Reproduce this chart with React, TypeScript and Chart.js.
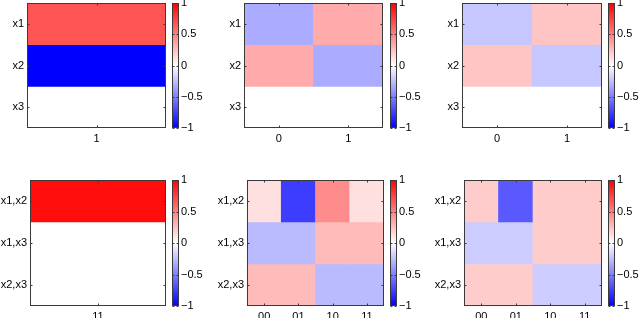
import React, { useEffect, useRef } from "react";
import { Chart, registerables } from "chart.js";
Chart.register(...registerables);

// ---- data ----
const rowLabelsSingle = ["x1", "x2", "x3"];
const rowLabelsPair = ["x1,x2", "x1,x3", "x2,x3"];
const colLabelsA = ["1"];
const colLabelsB = ["0", "1"];
const colLabelsC = ["11"];
const colLabelsD = ["00", "01", "10", "11"];

const panel1Values = [[0.67], [-1], [0]];
const panel2Values = [[-0.33, 0.33], [0.33, -0.33], [0, 0]];
const panel3Values = [[-0.22, 0.23], [0.23, -0.22], [0, 0]];
const panel4Values = [[0.95], [0], [0]];
const panel5Values = [
  [0.12, -0.76, 0.45, 0.12],
  [-0.27, -0.27, 0.27, 0.27],
  [0.27, 0.27, -0.27, -0.27],
];
const panel6Values = [
  [0.2, -0.65, 0.2, 0.2],
  [-0.2, -0.2, 0.2, 0.2],
  [0.2, 0.2, -0.2, -0.2],
];
const colorbarTicks = [-1, -0.5, 0, 0.5, 1];

const FONT = { family: "'Liberation Sans', Arial, sans-serif", size: 11 };
const FRAME = "#3a3a3a";

function cellColor(v: number) {
  const t = Math.round(255 * (1 - Math.min(1, Math.abs(v))));
  return v >= 0 ? `rgb(255,${t},${t})` : `rgb(${t},${t},255)`;
}

function fmtTick(v: number) {
  const s = String(Math.abs(v));
  return v < 0 ? "\u2212" + s : s;
}

const heatFrame = {
  id: "heatFrame",
  afterDraw(chart: any) {
    const { ctx, chartArea: a } = chart;
    const xs = chart.scales.x;
    const ys = chart.scales.y;
    const L = Math.round(a.left) + 0.5;
    const R = Math.round(a.right) - 0.5;
    const T = Math.round(a.top) + 0.5;
    const B = Math.round(a.bottom) - 0.5;
    ctx.save();
    ctx.strokeStyle = FRAME;
    ctx.lineWidth = 1;
    ctx.strokeRect(L, T, R - L, B - T);
    ctx.beginPath();
    xs.ticks.forEach((_: any, i: number) => {
      const x = Math.round(xs.getPixelForTick(i)) + 0.5;
      ctx.moveTo(x, B);
      ctx.lineTo(x, B - 2);
      ctx.moveTo(x, T);
      ctx.lineTo(x, T + 2);
    });
    ys.ticks.forEach((t: any) => {
      const y = Math.round(ys.getPixelForValue(t.value)) + 0.5;
      ctx.moveTo(L, y);
      ctx.lineTo(L + 2, y);
      ctx.moveTo(R, y);
      ctx.lineTo(R - 2, y);
    });
    ctx.stroke();
    ctx.restore();
  },
};

const cbFrame = {
  id: "cbFrame",
  afterDraw(chart: any) {
    const { ctx, chartArea: a } = chart;
    const ys = chart.scales.y;
    const L = Math.round(a.left) + 0.5;
    const R = Math.round(a.right) - 0.5;
    const T = Math.round(a.top) + 0.5;
    const B = Math.round(a.bottom) - 0.5;
    ctx.save();
    ctx.strokeStyle = FRAME;
    ctx.lineWidth = 1;
    ctx.strokeRect(L, T, R - L, B - T);
    ctx.beginPath();
    ys.ticks.forEach((t: any) => {
      const y = Math.round(ys.getPixelForValue(t.value)) + 0.5;
      ctx.moveTo(L, y);
      ctx.lineTo(L + 2, y);
      ctx.moveTo(R, y);
      ctx.lineTo(R - 2, y);
    });
    ctx.stroke();
    ctx.restore();
  },
};

type Spec = {
  rows: string[];
  cols: string[];
  values: number[][];
  left: number;
  top: number;
  right: number;
  bottom: number;
  cbLeft: number;
  cbRight: number;
};

function HeatPanel({ spec }: { spec: Spec }) {
  const ref = useRef<HTMLCanvasElement>(null);
  const padL = 45, padT = 6, padR = 2, padB = 20;
  const cw = spec.right - spec.left + padL + padR;
  const ch = spec.bottom - spec.top + padT + padB;
  useEffect(() => {
    const chart = new Chart(ref.current as HTMLCanvasElement, {
      type: "bar",
      data: {
        labels: spec.cols,
        datasets: spec.rows.map((r, i) => ({
          label: r,
          data: spec.cols.map(() => [i - 0.5, i + 0.5]) as any,
          backgroundColor: spec.values[i].map(cellColor),
          borderWidth: 0,
          barPercentage: 1,
          categoryPercentage: 1,
          grouped: false,
        })),
      },
      options: {
        responsive: false,
        animation: false,
        events: [],
        layout: { padding: { top: padT, right: padR, left: 0, bottom: 0 } },
        plugins: { legend: { display: false }, tooltip: { enabled: false } },
        scales: {
          x: {
            type: "category",
            offset: true,
            grid: { display: false, drawTicks: false },
            border: { display: false },
            ticks: { color: "#000", font: FONT, padding: 4, maxRotation: 0, autoSkip: false },
            afterFit: (s: any) => {
              s.height = padB;
              s.paddingLeft = 0;
              s.paddingRight = 0;
            },
          },
          y: {
            type: "linear",
            reverse: true,
            min: -0.5,
            max: 2.5,
            grid: { display: false, drawTicks: false },
            border: { display: false },
            afterBuildTicks: (s: any) => {
              s.ticks = spec.rows.map((_, i) => ({ value: i }));
            },
            ticks: {
              color: "#000",
              font: FONT,
              padding: 3,
              autoSkip: false,
              callback: (v: any) => spec.rows[Number(v)] ?? "",
            },
            afterFit: (s: any) => {
              s.width = padL;
              s.paddingTop = 0;
              s.paddingBottom = 0;
            },
          },
        },
      } as any,
      plugins: [heatFrame],
    });
    return () => chart.destroy();
  }, []);
  return (
    <canvas
      ref={ref}
      width={cw}
      height={ch}
      style={{ position: "absolute", left: spec.left - padL, top: spec.top - padT, width: cw, height: ch }}
    />
  );
}

function ColorBar({ spec }: { spec: Spec }) {
  const ref = useRef<HTMLCanvasElement>(null);
  const padT = 10, padB = 10, axisW = 32;
  const cw = spec.cbRight - spec.cbLeft + axisW;
  const ch = spec.bottom - spec.top + padT + padB;
  useEffect(() => {
    const chart = new Chart(ref.current as HTMLCanvasElement, {
      type: "bar",
      data: {
        labels: ["cb"],
        datasets: [
          {
            data: [[-1, 1]] as any,
            backgroundColor: (c: any) => {
              const a = c.chart.chartArea;
              if (!a) return "#fff";
              const g = c.chart.ctx.createLinearGradient(0, a.bottom, 0, a.top);
              g.addColorStop(0, "rgb(0,0,255)");
              g.addColorStop(0.5, "rgb(255,255,255)");
              g.addColorStop(1, "rgb(255,0,0)");
              return g;
            },
            borderWidth: 0,
            barPercentage: 1,
            categoryPercentage: 1,
          },
        ],
      },
      options: {
        responsive: false,
        animation: false,
        events: [],
        layout: { padding: { top: padT, bottom: padB, left: 0, right: 0 } },
        plugins: { legend: { display: false }, tooltip: { enabled: false } },
        scales: {
          x: { display: false, offset: true },
          y: {
            type: "linear",
            position: "right",
            min: -1,
            max: 1,
            grid: { display: false, drawTicks: false },
            border: { display: false },
            afterBuildTicks: (s: any) => {
              s.ticks = colorbarTicks.map((v) => ({ value: v }));
            },
            ticks: {
              color: "#000",
              font: FONT,
              padding: 2,
              autoSkip: false,
              callback: (v: any) => fmtTick(Number(v)),
            },
            afterFit: (s: any) => {
              s.width = axisW;
              s.paddingTop = 0;
              s.paddingBottom = 0;
            },
          },
        },
      } as any,
      plugins: [cbFrame],
    });
    return () => chart.destroy();
  }, []);
  return (
    <canvas
      ref={ref}
      width={cw}
      height={ch}
      style={{ position: "absolute", left: spec.cbLeft, top: spec.top - padT, width: cw, height: ch }}
    />
  );
}

const specs: Spec[] = [
  { rows: rowLabelsSingle, cols: colLabelsA, values: panel1Values, left: 27, top: 3, right: 166, bottom: 128, cbLeft: 172, cbRight: 179 },
  { rows: rowLabelsSingle, cols: colLabelsB, values: panel2Values, left: 244, top: 3, right: 383, bottom: 128, cbLeft: 390, cbRight: 397 },
  { rows: rowLabelsSingle, cols: colLabelsB, values: panel3Values, left: 462, top: 3, right: 602, bottom: 128, cbLeft: 608, cbRight: 615 },
  { rows: rowLabelsPair, cols: colLabelsC, values: panel4Values, left: 30, top: 180, right: 166, bottom: 306, cbLeft: 172, cbRight: 179 },
  { rows: rowLabelsPair, cols: colLabelsD, values: panel5Values, left: 247, top: 180, right: 384, bottom: 306, cbLeft: 390, cbRight: 397 },
  { rows: rowLabelsPair, cols: colLabelsD, values: panel6Values, left: 464, top: 180, right: 602, bottom: 306, cbLeft: 608, cbRight: 615 },
];

export default function App() {
  return (
    <div
      style={{
        position: "fixed",
        left: 0,
        top: 0,
        width: 640,
        height: 318,
        overflow: "hidden",
        background: "#fff",
      }}
    >
      {specs.map((s, i) => (
        <React.Fragment key={i}>
          <HeatPanel spec={s} />
          <ColorBar spec={s} />
        </React.Fragment>
      ))}
    </div>
  );
}
